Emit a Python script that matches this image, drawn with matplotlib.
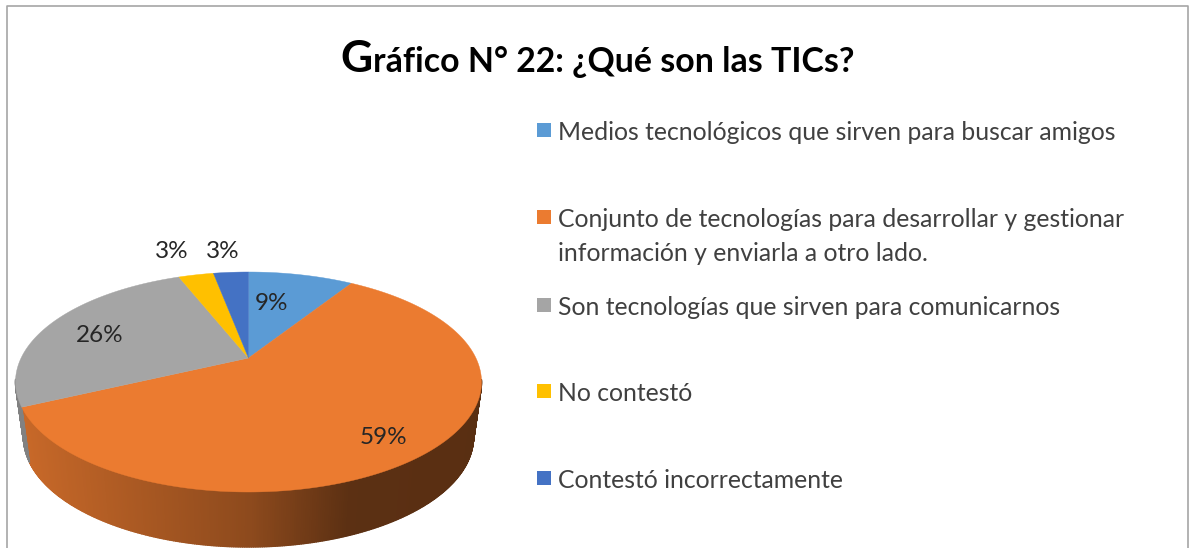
import numpy as np
import matplotlib
matplotlib.use('Agg')
import matplotlib.pyplot as plt
from matplotlib.collections import PolyCollection

categories = ['Medios tecnológicos que sirven para buscar amigos',
              'Conjunto de tecnologías para desarrollar y gestionar\ninformación y enviarla a otro lado.',
              'Son tecnologías que sirven para comunicarnos',
              'No contestó',
              'Contestó incorrectamente']
values = [9, 59, 26, 3, 3]
colors = ['#5B9BD5', '#EB7B30', '#A5A5A5', '#FFC000', '#4472C4']

plt.rcParams['font.family'] = ['Lato', 'DejaVu Sans']

fig = plt.figure(figsize=(11.89, 5.48), dpi=100)
ax = fig.add_axes([0, 0, 1, 1])
ax.set_xlim(0, 1189)
ax.set_ylim(548, 0)
ax.axis('off')

# tilted pie: ellipse centre and apex are not the same point
cx, cy, rx, ry = 248.5, 382, 233, 110
apex = 0.218
depth = 55
rx2 = 225


def project(theta, r=1.0):
    # theta in radians clockwise from 12 o'clock
    u = r * np.sin(theta)
    v = r * np.cos(theta)
    d = 1 + apex * v
    return (v + apex) / d, u * np.sqrt(1 - apex ** 2) / d


def shade(x):
    return np.interp(x, [20, 250, 350, 480], [0.85, 0.6, 0.39, 0.38])


# side of the pie
edges = np.cumsum([0] + values) / sum(values) * 2 * np.pi
quads = []
quad_colors = []
for i in range(len(values)):
    th = np.linspace(edges[i], edges[i + 1], max(int(values[i] * 8), 2))
    vp, up = project(th)
    base = np.array(matplotlib.colors.to_rgb(colors[i]))
    for j in range(len(th) - 1):
        if vp[j] > 0.02 and vp[j + 1] > 0.02:
            continue
        x0, x1 = cx + rx * up[j], cx + rx * up[j + 1]
        y0, y1 = cy - ry * vp[j], cy - ry * vp[j + 1]
        x2, x3 = cx + rx2 * up[j + 1], cx + rx2 * up[j]
        y2, y3 = cy + depth - ry * vp[j + 1], cy + depth - ry * vp[j]
        quads.append([(x0, y0), (x1, y1), (x2, y2), (x3, y3)])
        f = shade((x0 + x1) / 2) if i == 1 else 0.78
        quad_colors.append(base * f)
ax.add_collection(PolyCollection(quads, facecolors=quad_colors, edgecolors=quad_colors, linewidths=1.0))

# top of the pie
for i in range(len(values)):
    th = np.linspace(edges[i], edges[i + 1], max(int(values[i] * 8), 2))
    vp, up = project(th)
    xs = np.concatenate([[cx], cx + rx * up])
    ys = np.concatenate([[cy - ry * apex], cy - ry * vp])
    ax.fill(xs, ys, color=colors[i], lw=0.3, zorder=3)

# data labels
label_x = [271, 383, 100, 172, 223]
label_y = [303, 438, 335, 252, 252]
for i in range(len(values)):
    ax.text(label_x[i], label_y[i], '%d%%' % values[i], fontsize=17.5, color='#262626',
            ha='center', va='center', zorder=4)

# legend
legend_y = [130, 217, 305, 391, 478]
for i in range(len(categories)):
    ax.scatter([544], [legend_y[i]], marker='s', s=95, color=colors[i], linewidths=0, zorder=4)
    ax.text(558, legend_y[i] - 9, categories[i], fontsize=17.85, color='#404040',
            ha='left', va='top', linespacing=1.6, zorder=4)

# title, the G is bigger than the rest
g = ax.text(340, 72, 'G', fontsize=32, fontweight='bold', color='black', ha='left', va='baseline')
fig.canvas.draw()
bb = g.get_window_extent()
ax.text(bb.x1 + 1, 72, 'ráfico N° 22: ¿Qué son las TICs?', fontsize=24.4, fontweight='bold',
        color='black', ha='left', va='baseline')

# chart frame, cut at the bottom
ax.plot([7, 7, 1188, 1188], [548, 5.5, 5.5, 548], color='#a6a6a6', lw=1.2, clip_on=False)

fig.savefig('out.png', dpi=100)
